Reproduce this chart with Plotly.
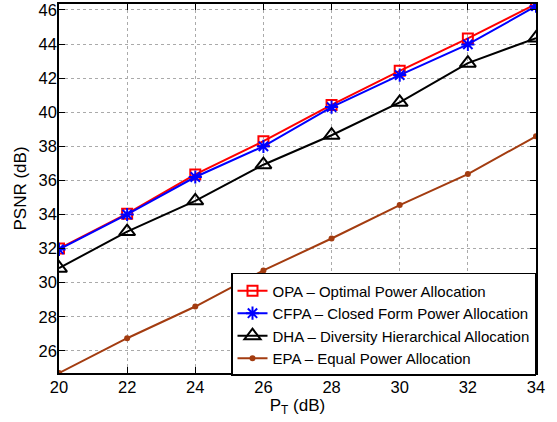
import plotly.graph_objects as go

pt = [20, 22, 24, 26, 28, 30, 32, 34]
opa = [32.0, 34.05, 36.35, 38.3, 40.43, 42.43, 44.33, 46.35]
cfpa = [31.95, 34.0, 36.2, 38.0, 40.3, 42.18, 43.98, 46.22]
dha = [30.85, 33.0, 34.8, 36.92, 38.65, 40.58, 42.88, 44.35]
epa = [24.7, 26.74, 28.6, 30.72, 32.59, 34.55, 36.37, 38.59]

names = [
    "OPA – Optimal Power Allocation",
    "CFPA – Closed Form Power Allocation",
    "DHA – Diversity Hierarchical Allocation",
    "EPA – Equal Power Allocation",
]
x_ticks = [20, 22, 24, 26, 28, 30, 32, 34]
y_ticks = [26, 28, 30, 32, 34, 36, 38, 40, 42, 44, 46]

FONT = "Liberation Sans, Arial, sans-serif"

fig = go.Figure()
fig.add_trace(go.Scatter(x=pt, y=epa, name=names[3], mode="lines+markers",
                         line=dict(color="rgb(163,60,16)", width=2),
                         marker=dict(symbol="circle", size=6, color="rgb(163,60,16)")))
fig.add_trace(go.Scatter(x=pt, y=dha, name=names[2], mode="lines+markers",
                         line=dict(color="black", width=2),
                         marker=dict(symbol="triangle-up-open", size=14, color="black",
                                     line=dict(width=2, color="black"))))
fig.add_trace(go.Scatter(x=pt, y=opa, name=names[0], mode="lines+markers",
                         line=dict(color="red", width=2),
                         marker=dict(symbol="square-open", size=10, color="red",
                                     line=dict(width=2, color="red"))))
fig.add_trace(go.Scatter(x=pt, y=cfpa, name=names[1], mode="lines+markers",
                         line=dict(color="blue", width=2),
                         marker=dict(symbol="asterisk-open", size=11, color="blue",
                                     line=dict(width=2, color="blue"))))

axis_common = dict(
    showline=True, linecolor="black", linewidth=1.5, mirror="ticks",
    ticks="inside", ticklen=6, tickcolor="black", tickwidth=1,
    showgrid=True, gridcolor="rgb(170,170,170)", griddash="dot", gridwidth=1,
    zeroline=False, automargin=False,
    tickfont=dict(family=FONT, size=16.5, color="black"),
)

fig.update_layout(
    width=557, height=422,
    margin=dict(l=59, r=21, t=4, b=49),
    paper_bgcolor="white", plot_bgcolor="white",
    font=dict(family=FONT, color="black"),
    xaxis=dict(range=[20, 34], tickvals=x_ticks, ticklabelstandoff=-2,
               title=dict(text="P<sub>T</sub> (dB)", font=dict(size=17), standoff=2),
               **axis_common),
    yaxis=dict(range=[24.7, 46.35], tickvals=y_ticks, ticklabelstandoff=-3,
               title=dict(text="PSNR (dB)", font=dict(size=17), standoff=8),
               **axis_common),
    legend=dict(
        x=1, y=-0.008, xanchor="right", yanchor="bottom",
        bordercolor="black", borderwidth=1.5, bgcolor="white",
        font=dict(size=15, family=FONT),
        traceorder="normal", tracegroupgap=0,
        itemwidth=30,
    ),
    showlegend=True,
)

fig.data[2].legendrank = 1
fig.data[3].legendrank = 2
fig.data[1].legendrank = 3
fig.data[0].legendrank = 4

fig.write_html("out.html", config={"displayModeBar": False},
               post_script="document.body.style.margin='0';document.body.style.padding='0';")
